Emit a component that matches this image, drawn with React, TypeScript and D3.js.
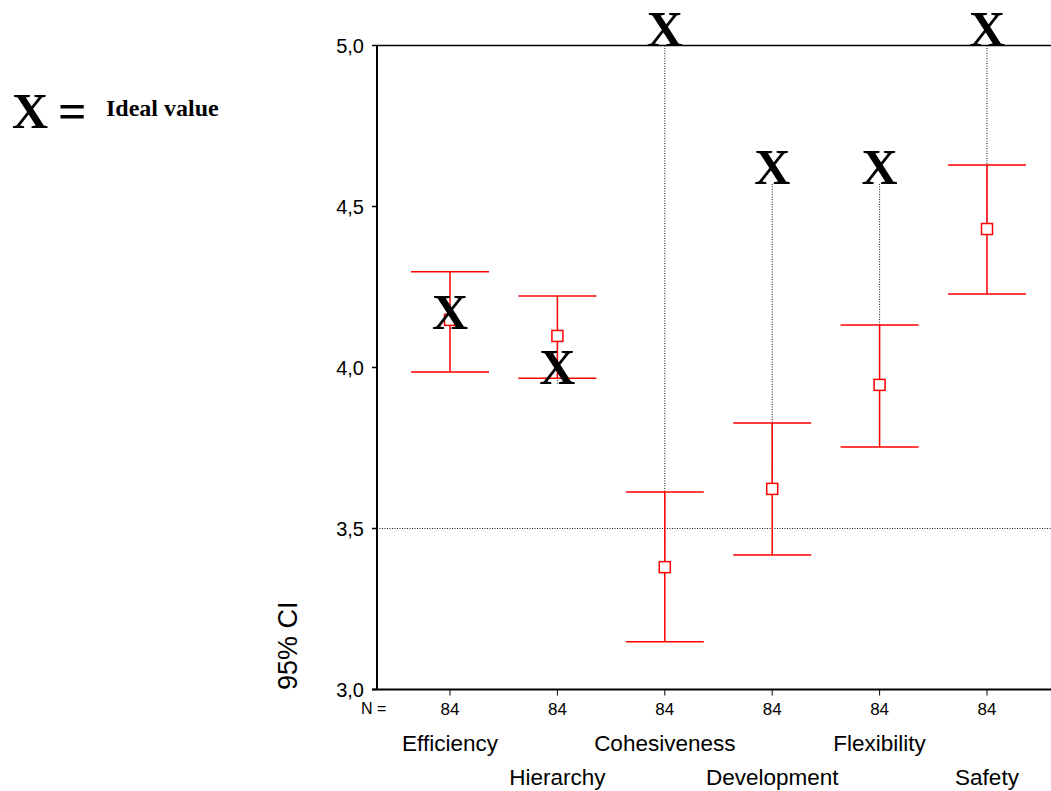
import React from "react";
import * as d3 from "d3";

// 95% CI per dimension, N = 84 each
const categories = ["Efficiency", "Hierarchy", "Cohesiveness", "Development", "Flexibility", "Safety"];
const means = [4.148, 4.098, 3.38, 3.623, 3.946, 4.43];
const lower = [3.986, 3.967, 3.148, 3.418, 3.753, 4.228];
const upper = [4.297, 4.222, 3.613, 3.828, 4.132, 4.629];
const ideal = [4.12, 3.95, 5.0, 4.57, 4.57, 5.0];
const counts = [84, 84, 84, 84, 84, 84];
const yTicks = [3.0, 3.5, 4.0, 4.5, 5.0];
const refLine = 3.5;

const W = 1051;
const H = 791;

export default function App() {
  const left = 377;
  const top = 45.5;
  const bottom = 689.5;

  const x = d3.scalePoint<string>().domain(categories).range([450, 987]);
  const y = d3.scaleLinear().domain([3, 5]).range([bottom, top]);
  const fmt = (v: number) => v.toFixed(1).replace(".", ",");

  const sans = "'Liberation Sans', Arial, sans-serif";
  const serif = "'Liberation Serif', 'Times New Roman', serif";
  const cap = 39;
  const red = "#ff0000";

  return (
    <svg
      width={W}
      height={H}
      style={{ position: "absolute", left: 0, top: 0, background: "#fff" }}
    >
      {/* legend */}
      <text x={12} y={128} fontFamily={serif} fontWeight="bold" fontSize={50}>X</text>
      <text x={58} y={128} fontFamily={serif} fontWeight="bold" fontSize={50}>=</text>
      <text x={106} y={116} fontFamily={serif} fontWeight="bold" fontSize={24}>Ideal value</text>

      {/* reference line */}
      <line x1={left} x2={W} y1={y(refLine)} y2={y(refLine)} stroke="#111" strokeWidth={1} strokeDasharray="1,1.5" />

      {/* dotted connectors from ideal to mean */}
      {categories.map((c, i) => (
        <line
          key={"d" + c}
          x1={x(c)!}
          x2={x(c)!}
          y1={y(ideal[i])}
          y2={y(means[i])}
          stroke="#111"
          strokeWidth={1}
          strokeDasharray="1,1.5"
        />
      ))}

      {/* axes frame */}
      <line x1={left} x2={W} y1={top} y2={top} stroke="#000" strokeWidth={1.5} />
      <line x1={left} x2={left} y1={top} y2={bottom} stroke="#000" strokeWidth={2} />
      <line x1={left - 5} x2={W} y1={bottom} y2={bottom} stroke="#000" strokeWidth={2} />

      {yTicks.map((t) => (
        <g key={"t" + t}>
          <line x1={left - 5} x2={left} y1={y(t)} y2={y(t)} stroke="#000" strokeWidth={1.5} />
          <text x={364} y={y(t) + 7} textAnchor="end" fontFamily={sans} fontSize={20}>{fmt(t)}</text>
        </g>
      ))}

      <text
        transform={`translate(297,690) rotate(-90)`}
        fontFamily={sans}
        fontSize={27}
      >
        95% CI
      </text>

      {/* x ticks and labels */}
      <text x={361} y={714} fontFamily={sans} fontSize={16}>N =</text>
      {categories.map((c, i) => (
        <g key={"x" + c}>
          <line x1={x(c)!} x2={x(c)!} y1={bottom} y2={bottom + 6} stroke="#000" strokeWidth={1} />
          <text x={x(c)!} y={715} textAnchor="middle" fontFamily={sans} fontSize={17}>{counts[i]}</text>
          <text
            x={x(c)!}
            y={i % 2 === 0 ? 751 : 785}
            textAnchor="middle"
            fontFamily={sans}
            fontSize={22.5}
          >
            {c}
          </text>
        </g>
      ))}

      {/* error bars */}
      {categories.map((c, i) => {
        const cx = x(c)!;
        return (
          <g key={"e" + c} stroke={red} strokeWidth={1.5} fill="none">
            <line x1={cx} x2={cx} y1={y(upper[i])} y2={y(lower[i])} />
            <line x1={cx - cap} x2={cx + cap} y1={y(upper[i])} y2={y(upper[i])} />
            <line x1={cx - cap} x2={cx + cap} y1={y(lower[i])} y2={y(lower[i])} />
            <rect x={cx - 5.5} y={y(means[i]) - 5.5} width={11} height={11} fill="#fff" />
          </g>
        );
      })}

      {/* ideal value markers */}
      {categories.map((c, i) => (
        <text
          key={"i" + c}
          x={x(c)!}
          y={y(ideal[i])}
          textAnchor="middle"
          fontFamily={serif}
          fontWeight="bold"
          fontSize={50}
        >
          X
        </text>
      ))}
    </svg>
  );
}
